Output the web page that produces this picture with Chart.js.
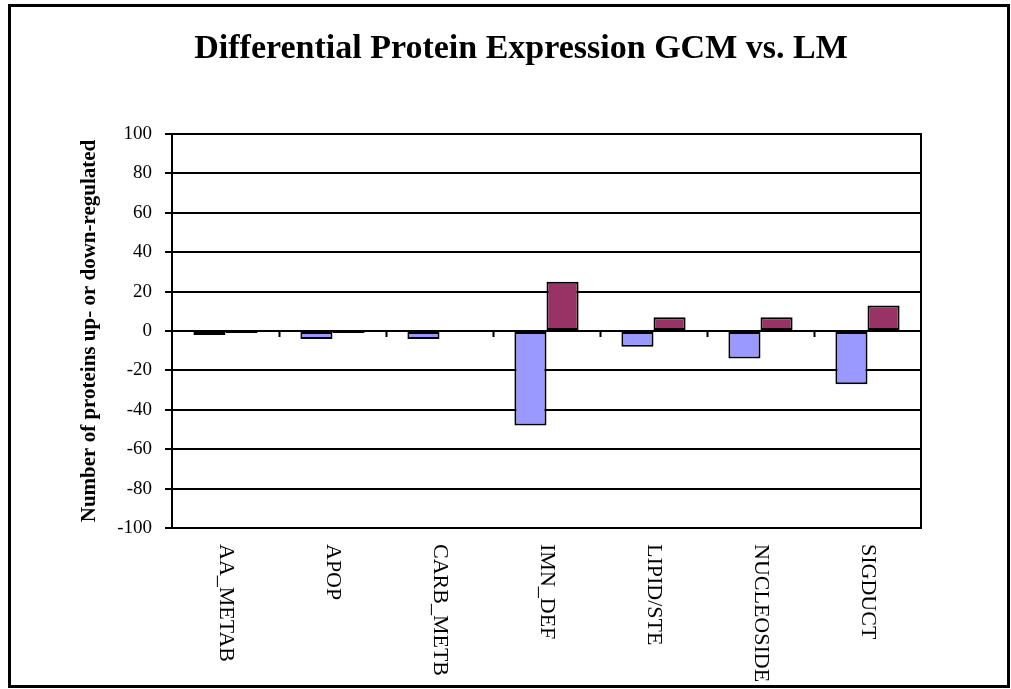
<!DOCTYPE html>
<html>
<head>
<meta charset="utf-8">
<title>Differential Protein Expression GCM vs. LM</title>
<script src="https://cdn.jsdelivr.net/npm/chart.js@4.4.1/dist/chart.umd.min.js"></script>
<style>
  html, body { margin: 0; padding: 0; background: #fff; }
  canvas { display: block; }
</style>
</head>
<body>
<canvas id="proteinChart" width="1011" height="689"></canvas>
<script>
    // data
    const categories = ['AA_METAB', 'APOP', 'CARB_METB', 'IMN_DEF', 'LIPID/STE', 'NUCLEOSIDE', 'SIGDUCT'];
    const downValues = [-2, -4, -4, -48, -8, -14, -27];
    const upValues = [-1, -1, 0, 25, 7, 7, 13];
    const yMin = -100;
    const yMax = 100;
    const yStep = 20;
    const chartTitle = 'Differential Protein Expression GCM vs. LM';

    const serif = '"Liberation Serif", "DejaVu Serif", serif';

    // frame, title, plot box, the little ticks on the zero line and the rotated category labels
    const excelFrame = {
        id: 'excelFrame',
        beforeDraw(chart) {
            const ctx = chart.ctx;
            ctx.save();
            ctx.fillStyle = '#fff';
            ctx.fillRect(0, 0, chart.width, chart.height);
            ctx.restore();
        },
        afterDraw(chart) {
            const ctx = chart.ctx;
            const area = chart.chartArea;
            const xScale = chart.scales.x;
            const yScale = chart.scales.y;
            ctx.save();
            ctx.strokeStyle = '#000';
            ctx.lineWidth = 2;
            ctx.strokeRect(area.left, area.top, area.right - area.left, area.bottom - area.top);

            const zeroY = yScale.getPixelForValue(0);
            const step = (area.right - area.left) / categories.length;
            ctx.beginPath();
            for (let i = 1; i < categories.length; i++) {
                const tx = Math.round(area.left + step * i) + 0.5;
                ctx.moveTo(tx, zeroY);
                ctx.lineTo(tx, zeroY + 6);
            }
            ctx.stroke();

            ctx.lineWidth = 3;
            ctx.strokeRect(9.5, 5.5, 999, 681);

            ctx.fillStyle = '#000';
            ctx.textAlign = 'center';
            ctx.textBaseline = 'middle';
            ctx.font = 'bold 34px ' + serif;
            ctx.fillText(chartTitle, 521, 49);

            ctx.font = '22px ' + serif;
            ctx.textAlign = 'left';
            categories.forEach((label, i) => {
                ctx.save();
                ctx.translate(xScale.getPixelForValue(i), area.bottom + 16);
                ctx.rotate(Math.PI / 2);
                ctx.fillText(label, 0, 0);
                ctx.restore();
            });
            ctx.restore();
        }
    };

    const ctx = document.getElementById('proteinChart').getContext('2d');

    new Chart(ctx, {
        type: 'bar',
        data: {
            labels: categories,
            datasets: [{
                label: 'Down-regulated',
                data: downValues,
                backgroundColor: '#9999FF',
                borderColor: '#000',
                borderWidth: 2,
                borderSkipped: false
            }, {
                label: 'Up-regulated',
                data: upValues,
                backgroundColor: '#993366',
                borderColor: '#000',
                borderWidth: 2,
                borderSkipped: false
            }]
        },
        options: {
            responsive: false,
            animation: false,
            devicePixelRatio: 1,
            datasets: {
                bar: { categoryPercentage: 0.6, barPercentage: 1.0 }
            },
            layout: { padding: { top: 134, right: 90, left: 0, bottom: 0 } },
            plugins: {
                legend: { display: false },
                tooltip: { enabled: false },
                title: { display: false }
            },
            scales: {
                x: {
                    grid: { display: false },
                    ticks: { display: false },
                    border: { display: true, color: '#000', width: 2 },
                    afterFit(scale) { scale.height = 161; }
                },
                y: {
                    min: yMin,
                    max: yMax,
                    ticks: {
                        stepSize: yStep,
                        color: '#000',
                        padding: 13,
                        font: { family: serif, size: 19 }
                    },
                    grid: { color: '#000', lineWidth: 2, tickLength: 7, drawTicks: true },
                    border: { display: true, color: '#000', width: 2 },
                    title: {
                        display: true,
                        text: 'Number of proteins up- or down-regulated',
                        color: '#000',
                        font: { family: serif, size: 21, weight: 'bold' },
                        padding: { top: 77 }
                    },
                    afterFit(scale) { scale.width = 172; }
                }
            }
        },
        plugins: [excelFrame]
    });
</script>
</body>
</html>
